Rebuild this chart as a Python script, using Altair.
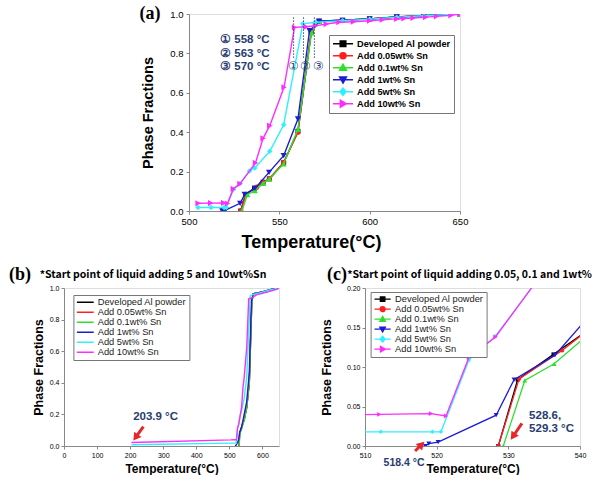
import altair as alt
import pandas as pd

SERIES = ["Developed Al powder", "Add 0.05wt% Sn", "Add 0.1wt% Sn",
          "Add 1wt% Sn", "Add 5wt% Sn", "Add 10wt% Sn"]
COLORS = ["#000000", "#ff1f1f", "#2ee02e", "#1c1cd2", "#2ff0ff", "#ff2cff"]
SHAPES = ["square", "circle", "triangle-up", "triangle-down", "diamond", "triangle-right"]
SIZES_A = [24, 26, 38, 38, 30, 38]
SIZES_C = [16, 18, 24, 24, 20, 24]
LEG_PATHS = [
    "M-1,0H4M0.8,-0.7H2.2V0.7H0.8Z",
    "M-1,0H4M2.25,0A0.75,0.75,0,1,1,0.75,0A0.75,0.75,0,1,1,2.25,0Z",
    "M-1,0H4M1.5,-0.85L2.35,0.65H0.65Z",
    "M-1,0H4M1.5,0.85L2.35,-0.65H0.65Z",
    "M-1,0H4M1.5,-0.9L2.25,0L1.5,0.9L0.75,0Z",
    "M-1,0H4M2.35,0L0.85,0.85V-0.85Z",
]
LEG_LINE_PATH = "M-1,0H3.2"

T_DEV = [528.6, 531.3, 536.3, 541.0, 544.5, 552.4, 560.3, 567.7, 572.0, 585.0, 600.0, 615.0, 630.0, 650.0]
F_DEV = [0.000, 0.084, 0.116, 0.146, 0.163, 0.245, 0.405, 0.910, 0.963, 0.968, 0.975, 0.985, 0.992, 1.000]
T_005 = [528.6, 531.5, 537.5, 541.0, 544.5, 552.4, 560.3, 567.6, 572.0, 585.0, 600.0, 615.0, 630.0, 650.0]
F_005 = [0.000, 0.085, 0.121, 0.146, 0.165, 0.247, 0.400, 0.905, 0.963, 0.968, 0.975, 0.985, 0.992, 1.000]
T_01 = [529.3, 532.3, 536.4, 541.0, 544.5, 552.4, 560.3, 567.8, 572.0, 585.0, 600.0, 615.0, 630.0, 650.0]
F_01 = [0.000, 0.083, 0.104, 0.140, 0.163, 0.240, 0.415, 0.905, 0.963, 0.968, 0.975, 0.985, 0.992, 1.000]
T_1 = [518.4, 518.9, 520.2, 528.3, 530.8, 536.5, 544.3, 552.4, 560.3, 566.7, 572.0, 585.0, 600.0, 615.0, 630.0, 650.0]
F_1 = [0.000, 0.003, 0.005, 0.039, 0.084, 0.115, 0.196, 0.281, 0.467, 0.915, 0.963, 0.968, 0.975, 0.985, 0.992, 1.000]
T_5 = [203.9, 505.0, 512.2, 519.4, 520.6, 524.5, 528.2, 533.5, 536.4, 544.7, 552.4, 563.0, 570.0, 585.0, 600.0,
       615.0, 630.0, 650.0]
F_5 = [0.008, 0.018, 0.018, 0.018, 0.018, 0.109, 0.139, 0.203, 0.218, 0.303, 0.438, 0.950, 0.958, 0.966, 0.974,
       0.984, 0.991, 1.000]
T_10 = [203.9, 505.0, 512.0, 519.2, 521.3, 524.5, 528.2, 536.8, 541.0, 544.7, 552.6, 558.4, 564.8, 570.0,
        576.0, 583.0, 591.0, 600.0, 607.0, 615.0, 619.0, 624.0, 631.0, 637.0, 645.0, 650.0]
F_10 = [0.022, 0.039, 0.040, 0.041, 0.038, 0.112, 0.138, 0.244, 0.369, 0.433, 0.628, 0.932, 0.935, 0.940,
        0.949, 0.958, 0.961, 0.966, 0.971, 0.975, 0.977, 0.980, 0.984, 0.988, 0.993, 1.000]
T_LIST = [T_DEV, T_005, T_01, T_1, T_5, T_10]
F_LIST = [F_DEV, F_005, F_01, F_1, F_5, F_10]

# annotations panel (a)
ANN_A_T = [517.2, 517.2, 517.2]
ANN_A_F = [0.869, 0.798, 0.731]
ANN_A_TXT = ["① 558 °C", "② 563 °C", "③ 570 °C"]
VL_T = [557.9, 563.4, 569.4]
VL_TOP = [0.983, 0.983, 0.983]
VL_BOT = [0.772, 0.772, 0.772]
CIRC_T = [557.6, 564.3, 571.6]
CIRC_F = [0.736, 0.736, 0.736]
CIRC_TXT = ["①", "②", "③"]
# annotations panel (b)
ANN_B_T = [209.0]
ANN_B_F = [0.182]
ANN_B_TXT = ["203.9 °C"]
ARR_B_T = [240.0]
ARR_B_F = [0.122]
ARR_B_T2 = [216.4]
ARR_B_F2 = [0.054]
ARR_B_ANG = [215.6]
# annotations panel (c)
ANN_C1_T = [515.45]
ANN_C1_F = [-0.021]
ANN_C1_TXT = ["518.4 °C"]
ANN_C2_T = [532.9, 532.9]
ANN_C2_F = [0.038, 0.021]
ANN_C2_TXT = ["528.6,", "529.3 °C"]
ARR_C_T = [516.99, 531.9]
ARR_C_F = [-0.0063, 0.0286]
ARR_C_T2 = [517.9, 530.64]
ARR_C_F2 = [0.0019, 0.012]
ARR_C_ANG = [45.0, 214.5]

NAVY = "#283c70"
ARROW = "#e8262a"
TXT_FONT = "Noto Sans CJK KR"
ANN_FONT = "Liberation Sans"


def axis(values, fmt, title, lsize, tsize, tpad, lpad, tick=3, **kw):
    return alt.Axis(values=values, format=fmt, title=title, labelFontSize=lsize,
                    titleFontSize=tsize, titlePadding=tpad, labelPadding=lpad,
                    tickSize=tick, labelFlush=False, grid=False, **kw)


def series_layers(xenc, yenc, lo, hi, points, sizes, sw):
    out = []
    for i in range(len(SERIES)):
        df = pd.DataFrame({"T": T_LIST[i], "F": F_LIST[i]})
        df = df[(df["T"] >= lo) & (df["T"] <= hi)]
        base = alt.Chart(df).encode(x=xenc, y=yenc)
        out.append(base.mark_line(color=COLORS[i], strokeWidth=sw, clip=True))
        if points:
            out.append(base.mark_point(shape=SHAPES[i], filled=True, color=COLORS[i],
                                       size=sizes[i], opacity=1, clip=True))
    return out


def legend_df():
    return pd.DataFrame({"series": SERIES,
                         "T": [t[0] for t in T_LIST],
                         "F": [f[0] for f in F_LIST]})


def label_layer(txt, dx, dy, font, size, align="center", weight="bold", color="black", limit=0):
    kw = dict(align=align, baseline="middle", font=font, fontSize=size, fontWeight=weight, color=color)
    if limit:
        kw["limit"] = limit
        kw["ellipsis"] = "\u200b"
    return alt.Chart(pd.DataFrame({"txt": [txt]})).mark_text(**kw).encode(
        text="txt:N", x=alt.value(dx), y=alt.value(dy))


# ---------------- panel (a) ----------------
AX_A_X = axis([500, 550, 600, 650], "d", "Temperature(°C)", 9.5, 18, 8, 2, titleX=122)
AX_A_Y = axis([0, 0.2, 0.4, 0.6, 0.8, 1.0], ".1f", "Phase Fractions", 9.5, 14.5, 14, 3)
xa = alt.X("T:Q", scale=alt.Scale(domain=[500, 650], nice=False, zero=False), axis=AX_A_X)
ya = alt.Y("F:Q", scale=alt.Scale(domain=[0, 1], nice=False), axis=AX_A_Y)

leg_a = alt.Legend(title=None, orient="none", legendX=140, legendY=21, fillColor="white",
                   strokeColor="#777777", padding=3, rowPadding=0, clipHeight=11.4, symbolSize=64,
                   symbolStrokeWidth=1.5, labelFont="Liberation Sans", labelFontSize=9.2,
                   labelFontWeight="bold", labelColor="black", labelOffset=15, symbolOpacity=1)
legend_a = alt.Chart(legend_df()).transform_filter("false").mark_point(filled=True, size=64).encode(
    x=xa, y=ya,
    fill=alt.Fill("series:N", scale=alt.Scale(domain=SERIES, range=COLORS), legend=leg_a),
    stroke=alt.Stroke("series:N", scale=alt.Scale(domain=SERIES, range=COLORS), legend=leg_a),
    shape=alt.Shape("series:N", scale=alt.Scale(domain=SERIES, range=LEG_PATHS), legend=leg_a),
)

ann_a = alt.Chart(pd.DataFrame({"T": ANN_A_T, "F": ANN_A_F, "txt": ANN_A_TXT})).mark_text(
    align="left", baseline="middle", font=ANN_FONT, fontSize=11.5, fontWeight="bold", color=NAVY
).encode(x=xa, y=ya, text="txt:N")
vlines_a = alt.Chart(pd.DataFrame({"T": VL_T, "top": VL_TOP, "bot": VL_BOT})).mark_rule(
    strokeDash=[1.5, 1.5], color="#3c4c78", strokeWidth=1
).encode(x=xa, y=alt.Y("top:Q", scale=alt.Scale(domain=[0, 1], nice=False), axis=AX_A_Y), y2="bot:Q")
circ_a = alt.Chart(pd.DataFrame({"T": CIRC_T, "F": CIRC_F, "txt": CIRC_TXT})).mark_text(
    align="center", baseline="middle", font=ANN_FONT, fontSize=12, color=NAVY
).encode(x=xa, y=ya, text="txt:N")

panel_a = alt.layer(
    *series_layers(xa, ya, 500, 650, True, SIZES_A, 1.4),
    vlines_a, circ_a, ann_a, legend_a,
    label_layer("(a)", -39, 0, "Liberation Serif", 18),
).properties(width=271, height=197)

# ---------------- panel (b) ----------------
AX_B_X = axis([0, 100, 200, 300, 400, 500, 600], "d", "Temperature(°C)", 7, 12, 5, 2)
AX_B_Y = axis([0, 0.2, 0.4, 0.6, 0.8, 1.0], ".1f", "Phase Fractions", 7, 12.5, 4, 2)
xb = alt.X("T:Q", scale=alt.Scale(domain=[0, 650], nice=False, zero=False), axis=AX_B_X)
yb = alt.Y("F:Q", scale=alt.Scale(domain=[0, 1], nice=False), axis=AX_B_Y)
leg_b = alt.Legend(title=None, orient="none", legendX=9.4, legendY=7, fillColor="white",
                   strokeColor="#777777", padding=2.5, rowPadding=0, clipHeight=9.3,
                   symbolType=LEG_LINE_PATH, symbolSize=64, symbolStrokeWidth=1.5,
                   labelFont="Liberation Sans", labelFontSize=9.3, labelColor="#222222",
                   labelOffset=11.8, symbolOpacity=1)
legend_b = alt.Chart(legend_df()).transform_filter("false").mark_line().encode(
    x=xb, y=yb,
    stroke=alt.Stroke("series:N", scale=alt.Scale(domain=SERIES, range=COLORS), legend=leg_b),
)
ann_b = alt.Chart(pd.DataFrame({"T": ANN_B_T, "F": ANN_B_F, "txt": ANN_B_TXT})).mark_text(
    align="left", baseline="middle", font=ANN_FONT, fontSize=11.5, fontWeight="bold", color=NAVY
).encode(x=xb, y=yb, text="txt:N")
arr_b_df = pd.DataFrame({"T": ARR_B_T, "F": ARR_B_F, "T2": ARR_B_T2, "F2": ARR_B_F2, "ang": ARR_B_ANG})
arr_b_line = alt.Chart(arr_b_df).mark_rule(color=ARROW, strokeWidth=3).encode(
    x=xb, y=yb, x2="T2:Q", y2="F2:Q")
arr_b_head = alt.Chart(arr_b_df).mark_point(shape="triangle-up", filled=True, color=ARROW,
                                            size=80, opacity=1).encode(
    x=alt.X("T2:Q", scale=alt.Scale(domain=[0, 650], nice=False, zero=False), axis=AX_B_X),
    y=alt.Y("F2:Q", scale=alt.Scale(domain=[0, 1], nice=False), axis=AX_B_Y),
    angle=alt.Angle("ang:Q", scale=None))

panel_b = alt.layer(
    *series_layers(xb, yb, 0, 650, False, SIZES_C, 1.4),
    ann_b, arr_b_line, arr_b_head, legend_b,
    label_layer("(b)", -44, -13.5, "Liberation Serif", 18),
    label_layer("*Start point of liquid adding 5 and 10wt%Sn", -24.3, -13.5, TXT_FONT, 10.5, align="left"),
).properties(width=215, height=158)

# ---------------- panel (c) ----------------
AX_C_X = axis([510, 520, 530, 540], "d", "Temperature(°C)", 7, 12, 5, 2)
AX_C_Y = axis([0, 0.05, 0.1, 0.15, 0.2], ".2f", "Phase Fractions", 7, 12.5, 13, 2)
xc = alt.X("T:Q", scale=alt.Scale(domain=[510, 540], nice=False, zero=False), axis=AX_C_X)
yc = alt.Y("F:Q", scale=alt.Scale(domain=[0, 0.2], nice=False), axis=AX_C_Y)
leg_c = alt.Legend(title=None, orient="none", legendX=5.6, legendY=4, fillColor="white",
                   strokeColor="#777777", padding=2.5, rowPadding=0, clipHeight=9.3, symbolSize=42,
                   symbolStrokeWidth=1.3, labelFont="Liberation Sans", labelFontSize=9.3,
                   labelColor="#222222", labelOffset=12.7, symbolOpacity=1)
legend_c = alt.Chart(legend_df()).transform_filter("false").mark_point(filled=True, size=42).encode(
    x=xc, y=yc,
    fill=alt.Fill("series:N", scale=alt.Scale(domain=SERIES, range=COLORS), legend=leg_c),
    stroke=alt.Stroke("series:N", scale=alt.Scale(domain=SERIES, range=COLORS), legend=leg_c),
    shape=alt.Shape("series:N", scale=alt.Scale(domain=SERIES, range=LEG_PATHS), legend=leg_c),
)
ann_c1 = alt.Chart(pd.DataFrame({"T": ANN_C1_T, "F": ANN_C1_F, "txt": ANN_C1_TXT})).mark_text(
    align="center", baseline="middle", font=ANN_FONT, fontSize=10.5, fontWeight="bold", color=NAVY
).encode(x=xc, y=yc, text="txt:N")
ann_c2 = alt.Chart(pd.DataFrame({"T": ANN_C2_T, "F": ANN_C2_F, "txt": ANN_C2_TXT})).mark_text(
    align="left", baseline="middle", font=ANN_FONT, fontSize=11.5, fontWeight="bold", color=NAVY
).encode(x=xc, y=yc, text="txt:N")
arr_c_df = pd.DataFrame({"T": ARR_C_T, "F": ARR_C_F, "T2": ARR_C_T2, "F2": ARR_C_F2, "ang": ARR_C_ANG})
arr_c_line = alt.Chart(arr_c_df).mark_rule(color=ARROW, strokeWidth=3).encode(
    x=xc, y=yc, x2="T2:Q", y2="F2:Q")
arr_c_head = alt.Chart(arr_c_df).mark_point(shape="triangle-up", filled=True, color=ARROW,
                                            size=80, opacity=1).encode(
    x=alt.X("T2:Q", scale=alt.Scale(domain=[510, 540], nice=False, zero=False), axis=AX_C_X),
    y=alt.Y("F2:Q", scale=alt.Scale(domain=[0, 0.2], nice=False), axis=AX_C_Y),
    angle=alt.Angle("ang:Q", scale=None))

panel_c = alt.layer(
    *series_layers(xc, yc, 500, 560, True, SIZES_C, 1.3),
    ann_c1, ann_c2, arr_c_line, arr_c_head, legend_c,
    label_layer("(c)", -28, -13.5, "Liberation Serif", 18),
    label_layer("*Start point of liquid adding 0.05, 0.1 and 1wt%Sn", -17.7, -13.5, TXT_FONT, 10.5,
                align="left", limit=247),
).properties(width=215, height=158)

spacer = alt.Chart(pd.DataFrame({"v": [0]})).mark_point(size=0, opacity=0).encode(
    x=alt.value(0), y=alt.value(0)
).properties(width=74.5, height=10, view=alt.ViewBackground(stroke="transparent"))

RES = dict(fill="independent", stroke="independent", shape="independent", x="independent", y="independent")
LRES = dict(fill="independent", stroke="independent", shape="independent")

row1 = alt.hconcat(spacer, panel_a, spacing=0).resolve_scale(**RES).resolve_legend(**LRES)
row2 = alt.hconcat(panel_b, panel_c, spacing=39).resolve_scale(**RES).resolve_legend(**LRES)

chart = alt.vconcat(row1, row2, spacing=13).resolve_scale(**RES).resolve_legend(**LRES).properties(
    padding={"left": 8, "top": 4, "right": 0, "bottom": 0}
).configure_view(stroke="black", strokeWidth=1).configure_axis(
    domainColor="black", tickColor="black", labelColor="#333333", titleColor="black",
    labelFont="Liberation Sans", titleFont="Liberation Sans", titleFontWeight="bold"
).configure(font="Liberation Sans")

chart.save("out.html", embed_options={"renderer": "svg", "actions": False})
